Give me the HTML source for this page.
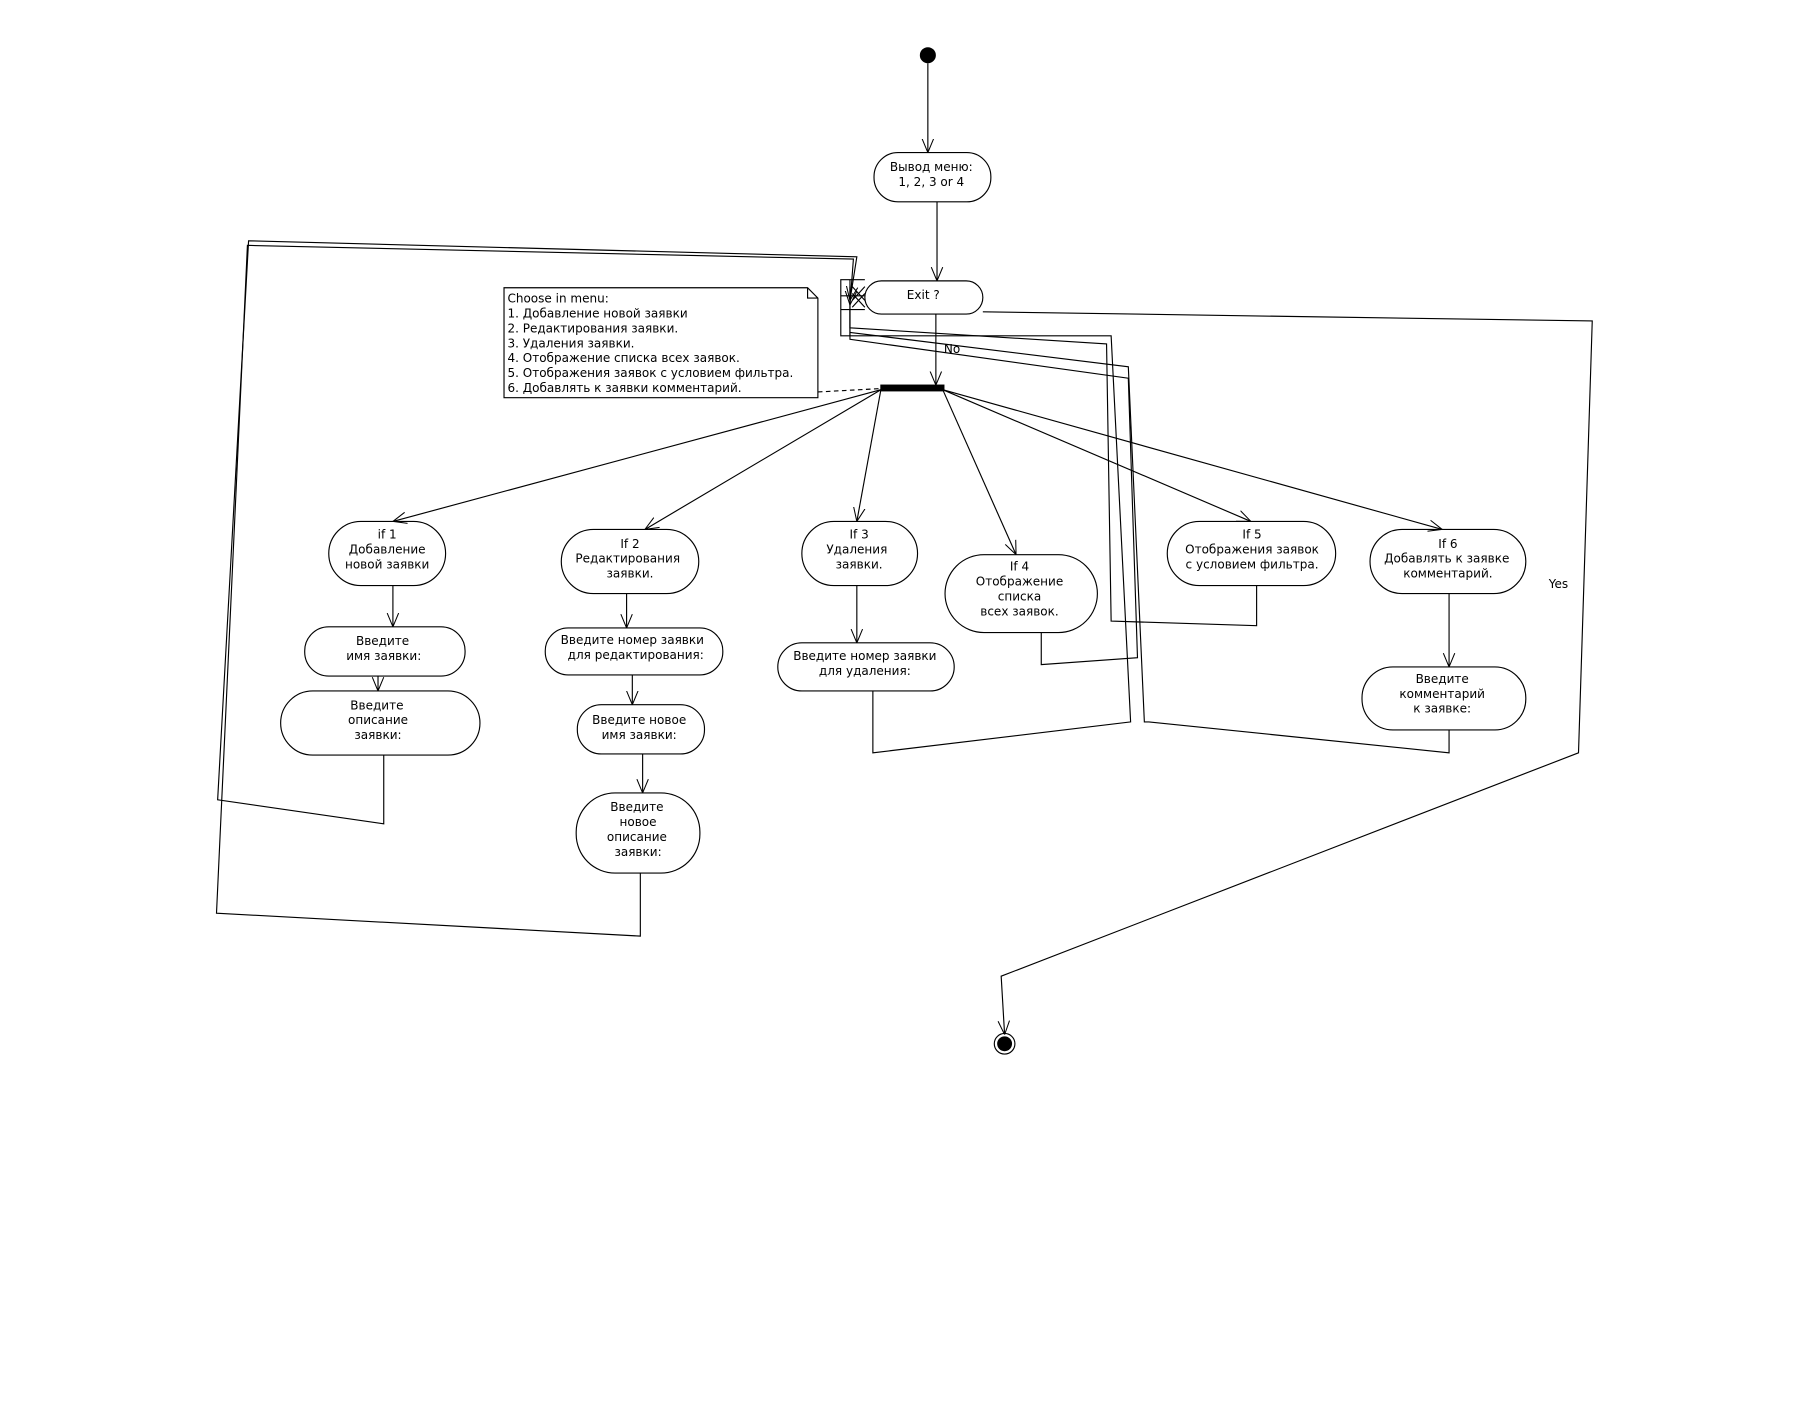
<!DOCTYPE html>
<html><head><meta charset="utf-8"><style>
html,body{margin:0;padding:0;background:#fff;}
svg{display:block;}
text{font-family:"DejaVu Sans","Liberation Sans",sans-serif;font-size:10.5px;fill:#000;}
</style></head><body>
<svg width="1795" height="1414" viewBox="0 0 1567 1234" xmlns="http://www.w3.org/2000/svg">
<defs>
<marker id="a" viewBox="0 0 12 12" refX="12" refY="6" markerWidth="12" markerHeight="12" markerUnits="userSpaceOnUse" orient="auto"><path d="M0,1 L12,6 L0,11" fill="none" stroke="#000" stroke-width="0.9"/></marker>
</defs>
<g fill="none" stroke="#000" stroke-width="1">
<circle cx="810" cy="48" r="6.5" fill="#000"/>
<line x1="810" y1="55" x2="810" y2="133" marker-end="url(#a)"/>
<rect x="763" y="133" width="102" height="43" rx="21"/>
<line x1="818" y1="176" x2="818" y2="245" marker-end="url(#a)"/>
<rect x="755" y="245" width="103" height="29" rx="14.5"/>
<line x1="817" y1="274" x2="817" y2="336" marker-end="url(#a)"/>
<rect x="769" y="336" width="55" height="5" fill="#000"/>
<path d="M440,251 H705 L714,260 V347 H440 Z"/>
<path d="M705,251 V260 H714"/>
<line x1="714" y1="342" x2="769" y2="339" stroke-dasharray="4,3"/>
<line x1="769" y1="340" x2="343" y2="455" marker-end="url(#a)"/>
<line x1="769" y1="340" x2="563" y2="462" marker-end="url(#a)"/>
<line x1="769" y1="340" x2="748" y2="455" marker-end="url(#a)"/>
<line x1="823" y1="340" x2="887" y2="484" marker-end="url(#a)"/>
<line x1="823" y1="340" x2="1092" y2="455" marker-end="url(#a)"/>
<line x1="823" y1="340" x2="1259" y2="462" marker-end="url(#a)"/>
<rect x="287" y="455" width="102" height="56" rx="28"/>
<rect x="490" y="462" width="120" height="56" rx="28"/>
<rect x="700" y="455" width="101" height="56" rx="28"/>
<rect x="825" y="484" width="133" height="68" rx="34"/>
<rect x="1019" y="455" width="147" height="56" rx="28"/>
<rect x="1196" y="462" width="136" height="56" rx="28"/>
<rect x="266" y="547" width="140" height="43" rx="21"/>
<rect x="245" y="603" width="174" height="56" rx="28"/>
<rect x="476" y="548" width="155" height="41" rx="20"/>
<rect x="504" y="615" width="111" height="43" rx="21"/>
<rect x="503" y="692" width="108" height="70" rx="34"/>
<rect x="679" y="561" width="154" height="42" rx="21"/>
<rect x="1189" y="582" width="143" height="55" rx="27"/>
<line x1="343" y1="511" x2="343" y2="547" marker-end="url(#a)"/>
<line x1="330" y1="590" x2="330" y2="603" marker-end="url(#a)"/>
<line x1="547" y1="518" x2="547" y2="548" marker-end="url(#a)"/>
<line x1="552" y1="589" x2="552" y2="615" marker-end="url(#a)"/>
<line x1="561" y1="658" x2="561" y2="692" marker-end="url(#a)"/>
<line x1="748" y1="511" x2="748" y2="561" marker-end="url(#a)"/>
<line x1="1265" y1="518" x2="1265" y2="582" marker-end="url(#a)"/>
<polyline points="335,659 335,719 190,698 217,210 748,224 742,262" marker-end="url(#a)"/>
<polyline points="559,762 559,817 189,797 216,214 745,226 742,266" marker-end="url(#a)"/>
<polyline points="1097,511 1097,546 970,542 966,300 742,286 742,250" />
<polyline points="909,552 909,580 993,574 985,330 742,296 742,270" />
<polyline points="762,603 762,657 987,630 970,293 734,293 734,244 755,244" />
<polyline points="1265,637 1265,657 1003,630 999,630 985,320 742,290" />
<line x1="734" y1="258" x2="755" y2="258"/>
<line x1="734" y1="270" x2="755" y2="270"/>
<line x1="742" y1="244" x2="742" y2="293"/>
<line x1="744" y1="250" x2="755" y2="262"/>
<line x1="744" y1="262" x2="755" y2="250"/>
<line x1="744" y1="256" x2="755" y2="268"/>
<line x1="744" y1="268" x2="755" y2="256"/>
<polyline points="858,272 1390,280 1378,657 874,852 877,903" marker-end="url(#a)"/>
<circle cx="877" cy="911" r="9"/>
<circle cx="877" cy="911" r="6" fill="#000"/>
</g>
<g text-anchor="middle">
<text x="813" y="149">Вывод меню:</text>
<text x="813" y="162">1, 2, 3 or 4</text>
<text x="806" y="261">Exit ?</text>
<text x="338" y="470">if 1</text><text x="338" y="483">Добавление</text><text x="338" y="496">новой заявки</text>
<text x="550" y="478">If 2</text><text x="548" y="491">Редактирования</text><text x="550" y="504">заявки.</text>
<text x="750" y="470">If 3</text><text x="748" y="483">Удаления</text><text x="750" y="496">заявки.</text>
<text x="890" y="498">If 4</text><text x="890" y="511">Отображение</text><text x="890" y="524">списка</text><text x="890" y="537">всех заявок.</text>
<text x="1093" y="470">If 5</text><text x="1093" y="483">Отображения заявок</text><text x="1093" y="496">с условием фильтра.</text>
<text x="1264" y="478">If 6</text><text x="1263" y="491">Добавлять к заявке</text><text x="1264" y="504">комментарий.</text>
<text x="334" y="563">Введите</text><text x="335" y="576">имя заявки:</text>
<text x="329" y="619">Введите</text><text x="330" y="632">описание</text><text x="330" y="645">заявки:</text>
<text x="552" y="562">Введите номер заявки</text><text x="555" y="575">для редактирования:</text>
<text x="558" y="632">Введите новое</text><text x="558" y="645">имя заявки:</text>
<text x="556" y="708">Введите</text><text x="557" y="721">новое</text><text x="556" y="734">описание</text><text x="557" y="747">заявки:</text>
<text x="755" y="576">Введите номер заявки</text><text x="755" y="589">для удаления:</text>
<text x="1259" y="596">Введите</text><text x="1259" y="609">комментарий</text><text x="1259" y="622">к заявке:</text>
</g>
<text x="824" y="308">No</text>
<text x="1352" y="513">Yes</text>
<text x="443" y="264">Choose in menu:</text>
<text x="443" y="277">1. Добавление новой заявки</text>
<text x="443" y="290">2. Редактирования заявки.</text>
<text x="443" y="303">3. Удаления заявки.</text>
<text x="443" y="316">4. Отображение списка всех заявок.</text>
<text x="443" y="329">5. Отображения заявок с условием фильтра.</text>
<text x="443" y="342">6. Добавлять к заявки комментарий.</text>
</svg>
</body></html>
